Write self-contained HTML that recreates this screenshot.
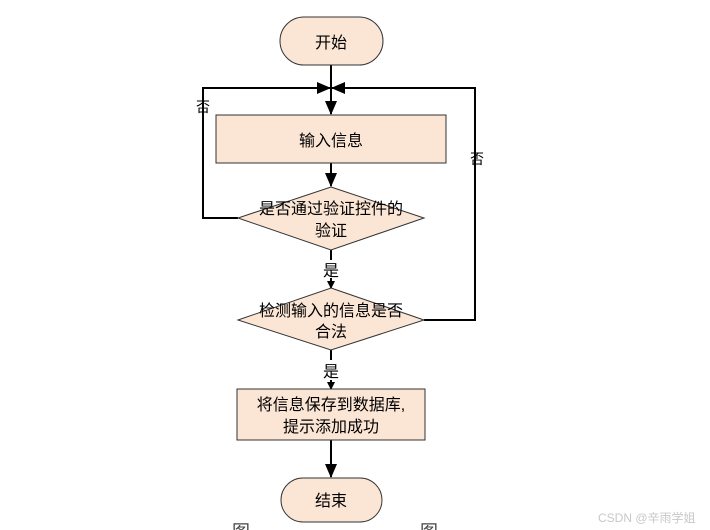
<!DOCTYPE html>
<html><head><meta charset="utf-8"><style>
html,body{margin:0;padding:0;background:#fff;width:710px;height:530px;overflow:hidden}
svg{display:block}
text{font-family:"Liberation Sans","Noto Sans CJK SC",sans-serif;font-size:16px;fill:#000}
</style></head><body>
<svg width="710" height="530" viewBox="0 0 710 530">
<defs><marker id="a" markerWidth="8" markerHeight="8" refX="7" refY="4" orient="auto" markerUnits="userSpaceOnUse"><path d="M0,0 L8,4 L0,8z" fill="#000"/></marker>
<marker id="b" markerWidth="14" markerHeight="12" refX="13" refY="6" orient="auto" markerUnits="userSpaceOnUse"><path d="M0,0 L14,6 L0,12z" fill="#000"/></marker></defs>
<g stroke="#000" stroke-width="2" fill="none">
<line x1="331" y1="65" x2="331" y2="114" marker-end="url(#b)"/>
<polyline points="238,218 203,218 203,88 330,88" marker-end="url(#b)"/>
<polyline points="424,320 475,320 475,88 332,88" marker-end="url(#b)"/>
<line x1="331" y1="163" x2="331" y2="186" marker-end="url(#b)"/>
<line x1="331" y1="250" x2="331" y2="260"/>
<line x1="331" y1="278" x2="331" y2="288" marker-end="url(#a)"/>
<line x1="331" y1="350" x2="331" y2="360"/>
<line x1="331" y1="380" x2="331" y2="389" marker-end="url(#a)"/>
<line x1="331" y1="440" x2="331" y2="477" marker-end="url(#b)"/>
</g>
<g fill="#fbe5d5" stroke="#333" stroke-width="1">
<rect x="280" y="17" width="103" height="48" rx="24"/>
<rect x="216" y="115" width="230" height="48"/>
<polygon points="331,187 424,218 331,250 238,218"/>
<polygon points="331,288 424,320 331,350 238,320"/>
<rect x="237" y="389" width="188" height="51"/>
<rect x="281" y="478" width="101" height="44" rx="22"/>
</g>
<g text-anchor="middle">
<text x="331" y="48">开始</text>
<text x="331" y="146">输入信息</text>
<text x="331" y="214">是否通过验证控件的</text>
<text x="331" y="236">验证</text>
<text x="331" y="276">是</text>
<text x="331" y="316">检测输入的信息是否</text>
<text x="331" y="337">合法</text>
<text x="331" y="377">是</text>
<text x="331" y="410">将信息保存到数据库,</text>
<text x="331" y="432">提示添加成功</text>
<text x="331" y="506">结束</text>
<text x="203" y="112" style="font-size:14px">否</text>
<text x="477" y="164" style="font-size:14px">否</text>
</g>
<text x="598" y="522" style="font-size:12px;fill:#c8c8c8">CSDN @辛雨学姐</text>
<text x="232" y="538" style="font-size:18px;fill:#444">图</text>
<text x="420" y="538" style="font-size:18px;fill:#444">图</text>
</svg>
</body></html>
